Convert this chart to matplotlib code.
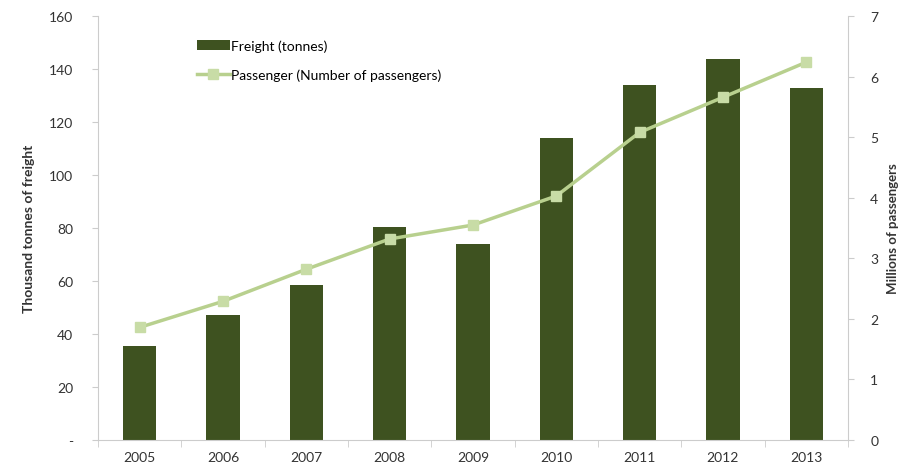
import matplotlib.pyplot as plt
import numpy as np

anos = ["2005", "2006", "2007", "2008", "2009", "2010", "2011", "2012", "2013"]
carga = [35.5, 47, 58.5, 80.4, 74, 114, 134, 144, 133]
passageiros = [1.86, 2.29, 2.82, 3.32, 3.55, 4.03, 5.08, 5.66, 6.24]

plt.rcParams['font.family'] = ['Lato', 'DejaVu Sans']

fig = plt.figure(figsize=(9.03, 4.77), dpi=100)
ax = fig.add_axes([0.1085, 0.0755, 0.8305, 0.8885])
x = np.arange(len(anos))

barras = ax.bar(x, carga, width=0.4, color='#3e5220', label='Freight (tonnes)', zorder=2)
ax.set_xlim(-0.5, len(anos) - 0.5)
ax.set_ylim(0, 160)
ax.set_yticks(range(0, 161, 20))
ax.set_yticklabels(['-'] + [str(v) for v in range(20, 161, 20)])
ax.set_xticks(x)
ax.set_xticklabels(anos)
ax.set_xticks(np.arange(-0.5, len(anos), 1), minor=True)
ax.tick_params(axis='x', which='major', length=0, labelsize=10, colors='#333333', pad=8)
ax.tick_params(axis='x', which='minor', length=5, color='#cccccc')
ax.tick_params(axis='y', length=4, color='#cccccc', labelsize=10, labelcolor='#333333', pad=14)
ax.set_ylabel('Thousand tonnes of freight', fontsize=10, fontweight='bold', color='#333333', labelpad=10)
for s in ['top', 'right']:
    ax.spines[s].set_visible(False)
for s in ['left', 'bottom']:
    ax.spines[s].set_color('#cccccc')

ax2 = ax.twinx()
linha, = ax2.plot(x, passageiros, color='#b8d08e', linewidth=2.5, marker='s', markersize=7,
                  markerfacecolor='#c8dca6', markeredgecolor='#c8dca6', label='Passenger (Number of passengers)', zorder=3)
ax2.set_ylim(0, 7)
ax2.set_yticks(range(0, 8))
ax2.tick_params(axis='y', length=4, color='#cccccc', labelsize=10, labelcolor='#333333', pad=12)
ax2.set_ylabel('Millions of passengers', fontsize=9.5, fontweight='bold', color='#333333', labelpad=6)
for s in ['top', 'left', 'bottom']:
    ax2.spines[s].set_visible(False)
ax2.spines['right'].set_color('#cccccc')

ax2.legend([barras, linha], ['Freight (tonnes)', 'Passenger (Number of passengers)'],
           loc='upper left', bbox_to_anchor=(0.115, 0.975), frameon=False, fontsize=10,
           handlelength=2.4, handletextpad=0.1, labelspacing=1.2)

fig.savefig('out.png', dpi=100)
